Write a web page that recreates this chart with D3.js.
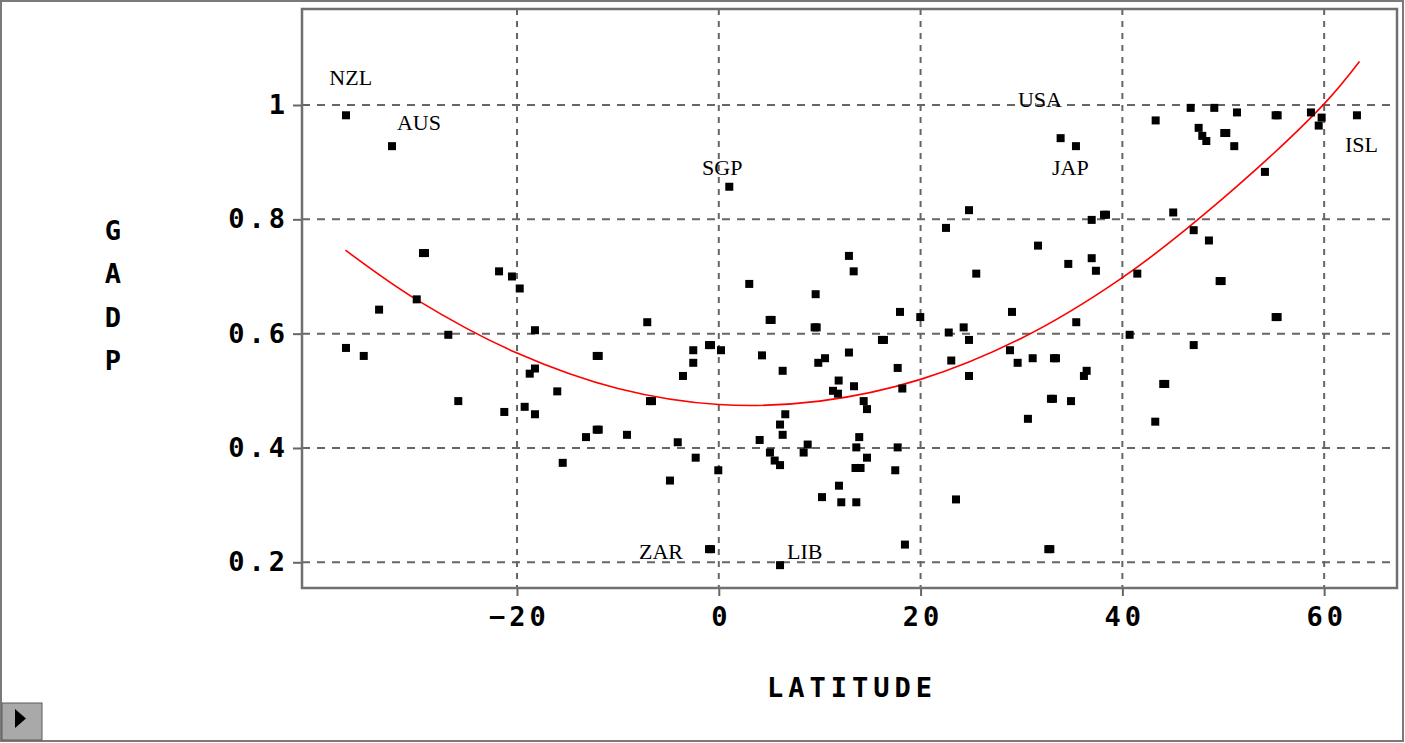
<!DOCTYPE html>
<html>
<head>
<meta charset="utf-8">
<script src="https://cdn.jsdelivr.net/npm/d3@7"></script>
<style>
    body { margin: 0; background: #fff; }
    svg { display: block; }
    .tick text, .axis-title { font-family: "DejaVu Sans Mono", monospace; font-weight: bold; fill: #000; }
    .country { font-family: "Liberation Serif", "Times New Roman", serif; font-size: 22px; fill: #000; }
</style>
</head>
<body>
<svg id="chart" width="1405" height="743"></svg>
<script>
// latitude / gadp pairs (black squares)
var latitude = [
    -36.95, -32.39, -29.32, -29.12, -21.78, -20.5, -19.73, -29.94, -33.67, -26.81,
    -36.95, -35.19, -18.22, -7.09, -12.1, -11.9, -2.53, -2.53, -0.97, -0.77,
    0.22, -3.55, -18.22, -18.74, -16.01, -6.82, -6.62, -25.82, -21.26, -19.24,
    -18.22, -13.16, -12.1, -11.9, -9.10, -4.07, -2.29, -15.47, -4.84, -0.05,
    -0.97, -0.77, 1.04, 33.88, 35.40, 24.80, 22.52, 36.96, 38.18, 38.38,
    31.64, 34.64, 36.96, 37.38, 25.52, 12.90, 13.37, 3.02, 9.60, 43.30,
    46.77, 49.11, 51.36, 55.19, 55.39, 58.69, 59.75, 59.46, 63.25, 47.56,
    47.92, 48.32, 50.1, 50.3, 51.09, 54.13, 45.04, 47.07, 48.58, 41.48,
    49.64, 49.84, 55.19, 55.39, 40.72, 47.07, 44.05, 44.25, 43.26, 17.96,
    19.97, 5.04, 5.24, 9.5, 9.7, 16.17, 16.37, 4.28, 12.90, 10.53,
    9.86, 6.33, 17.73, 11.88, 13.40, 11.32, 11.81, 18.19, 14.36, 14.69,
    6.59, 6.07, 6.33, 4.05, 8.81, 8.41, 5.07, 5.54, 6.07, 13.92,
    13.63, 14.69, 17.73, 13.55, 14.05, 17.49, 11.91, 10.23, 12.14, 13.63,
    18.45, 6.07, 22.79, 24.27, 24.80, 29.06, 35.43, 23.04, 24.80, 28.86,
    29.62, 31.11, 33.22, 33.42, 36.46, 36.19, 32.92, 33.12, 34.91, 30.64,
    23.51, 32.66, 32.86
];
var gadp = [
    0.982, 0.928, 0.741, 0.741, 0.709, 0.700, 0.679, 0.660, 0.642, 0.598,
    0.575, 0.561, 0.606, 0.620, 0.561, 0.561, 0.571, 0.549, 0.580, 0.580,
    0.571, 0.526, 0.539, 0.530, 0.499, 0.482, 0.482, 0.482, 0.463, 0.472,
    0.459, 0.419, 0.432, 0.432, 0.423, 0.410, 0.383, 0.374, 0.343, 0.361,
    0.223, 0.223, 0.857, 0.942, 0.928, 0.816, 0.785, 0.799, 0.808, 0.808,
    0.754, 0.722, 0.732, 0.710, 0.705, 0.736, 0.709, 0.687, 0.669, 0.973,
    0.995, 0.995, 0.987, 0.982, 0.982, 0.987, 0.978, 0.964, 0.982, 0.960,
    0.946, 0.937, 0.951, 0.951, 0.928, 0.883, 0.812, 0.781, 0.763, 0.705,
    0.692, 0.692, 0.629, 0.629, 0.598, 0.580, 0.512, 0.512, 0.446, 0.638,
    0.629, 0.624, 0.624, 0.611, 0.611, 0.589, 0.589, 0.562, 0.567, 0.557,
    0.549, 0.535, 0.540, 0.518, 0.508, 0.500, 0.495, 0.504, 0.482, 0.468,
    0.459, 0.441, 0.423, 0.414, 0.406, 0.392, 0.392, 0.378, 0.370, 0.419,
    0.401, 0.383, 0.401, 0.365, 0.365, 0.361, 0.334, 0.314, 0.305, 0.305,
    0.231, 0.195, 0.602, 0.611, 0.589, 0.638, 0.620, 0.553, 0.526, 0.571,
    0.549, 0.557, 0.557, 0.557, 0.535, 0.526, 0.486, 0.486, 0.482, 0.451,
    0.310, 0.223, 0.223
];

// red fitted curve, read at a few latitudes
var fitLat = [-37, -30, -20, -10, 0, 10, 20, 30, 40, 50, 60, 63.5];
var fitGadp = [0.746, 0.660, 0.566, 0.504, 0.476, 0.482, 0.520, 0.592, 0.698, 0.837, 1.002, 1.076];

// country tags: text, lat / gadp of the text start
var tagNames = ["NZL", "AUS", "SGP", "USA", "JAP", "ISL", "ZAR", "LIB"];
var tagLat = [-38.6, -31.9, -1.66, 29.65, 33.02, 62.06, -7.91, 6.76];
var tagGadp = [1.035, 0.956, 0.878, 0.997, 0.878, 0.918, 0.206, 0.206];

var xTicks = [-20, 0, 20, 40, 60];
var yTicks = [0.2, 0.4, 0.6, 0.8, 1];
var yTitle = ["G", "A", "D", "P"];

var svg = d3.select("#chart");
// plot box in pixels (don't call it "top", that's window.top)
var plotL = 302, plotR = 1397, plotT = 9, plotB = 588;

var x = d3.scaleLinear().domain([-41.31, 67.22]).range([plotL, plotR]);
var y = d3.scaleLinear().domain([0.2, 1]).range([562.3, 105]);
y.domain([y.invert(plotB), y.invert(plotT)]).range([plotB, plotT]);

// window border
svg.append("rect")
    .attr("x", 1).attr("y", 1).attr("width", 1402).attr("height", 740)
    .attr("fill", "none").attr("stroke", "#7a7a7a").attr("stroke-width", 2);

// grid
svg.append("g").selectAll("line").data(yTicks).enter().append("line")
    .attr("x1", plotL).attr("x2", plotR)
    .attr("y1", function (d) { return y(d); }).attr("y2", function (d) { return y(d); })
    .attr("stroke", "#666").attr("stroke-width", 2).attr("stroke-dasharray", "8,7");
svg.append("g").selectAll("line").data(xTicks).enter().append("line")
    .attr("x1", function (d) { return x(d); }).attr("x2", function (d) { return x(d); })
    .attr("y1", plotT).attr("y2", plotB)
    .attr("stroke", "#666").attr("stroke-width", 2).attr("stroke-dasharray", "6,6");

// axes
var yAxis = svg.append("g")
    .attr("transform", "translate(" + plotL + ",0)")
    .call(d3.axisLeft(y).tickValues(yTicks).tickSize(9).tickPadding(4)
        .tickFormat(function (d) { return d === 1 ? "1" : d3.format(".1f")(d); }));
var xAxis = svg.append("g")
    .attr("transform", "translate(0," + plotB + ")")
    .call(d3.axisBottom(x).tickValues(xTicks).tickSize(8).tickPadding(11));
[yAxis, xAxis].forEach(function (ax) {
    ax.select(".domain").remove();
    ax.selectAll(".tick line").attr("stroke", "#666").attr("stroke-width", 2);
    ax.selectAll(".tick text").attr("font-size", 27).style("letter-spacing", "4px");
});
xAxis.selectAll(".tick text").attr("dx", 2);

// plot frame
svg.append("rect")
    .attr("x", plotL).attr("y", plotT).attr("width", plotR - plotL).attr("height", plotB - plotT)
    .attr("fill", "none").attr("stroke", "#707070").attr("stroke-width", 2.5);

// fitted curve
var fit = fitLat.map(function (d, i) { return [d, fitGadp[i]]; });
svg.append("path")
    .datum(fit)
    .attr("fill", "none").attr("stroke", "#ff0000").attr("stroke-width", 1.6)
    .attr("d", d3.line()
        .x(function (d) { return x(d[0]); })
        .y(function (d) { return y(d[1]); })
        .curve(d3.curveCatmullRom));

// points
var pts = latitude.map(function (d, i) { return [d, gadp[i]]; });
svg.append("g").selectAll("rect").data(pts).enter().append("rect")
    .attr("x", function (d) { return x(d[0]) - 4; })
    .attr("y", function (d) { return y(d[1]) - 4; })
    .attr("width", 8).attr("height", 8)
    .attr("fill", "#000");

// country tags
svg.append("g").selectAll("text").data(tagNames).enter().append("text")
    .attr("class", "country")
    .attr("x", function (d, i) { return x(tagLat[i]); })
    .attr("y", function (d, i) { return y(tagGadp[i]); })
    .text(function (d) { return d; });

// titles
svg.append("text").attr("class", "axis-title")
    .attr("x", 852).attr("y", 697)
    .attr("text-anchor", "middle").attr("font-size", 27)
    .style("letter-spacing", "5px")
    .text("LATITUDE");
svg.append("g").selectAll("text").data(yTitle).enter().append("text")
    .attr("class", "axis-title")
    .attr("x", 113).attr("y", function (d, i) { return 240 + i * 43.3; })
    .attr("text-anchor", "middle").attr("font-size", 27)
    .text(function (d) { return d; });

// little scroll button, bottom left
svg.append("rect").attr("x", 2).attr("y", 703).attr("width", 40).attr("height", 37)
    .attr("fill", "#a9a9a9").attr("stroke", "#5a5a5a").attr("stroke-width", 1);
svg.append("path").attr("d", "M15,709 L26,718.5 L15,728 Z").attr("fill", "#000");
</script>
</body>
</html>
